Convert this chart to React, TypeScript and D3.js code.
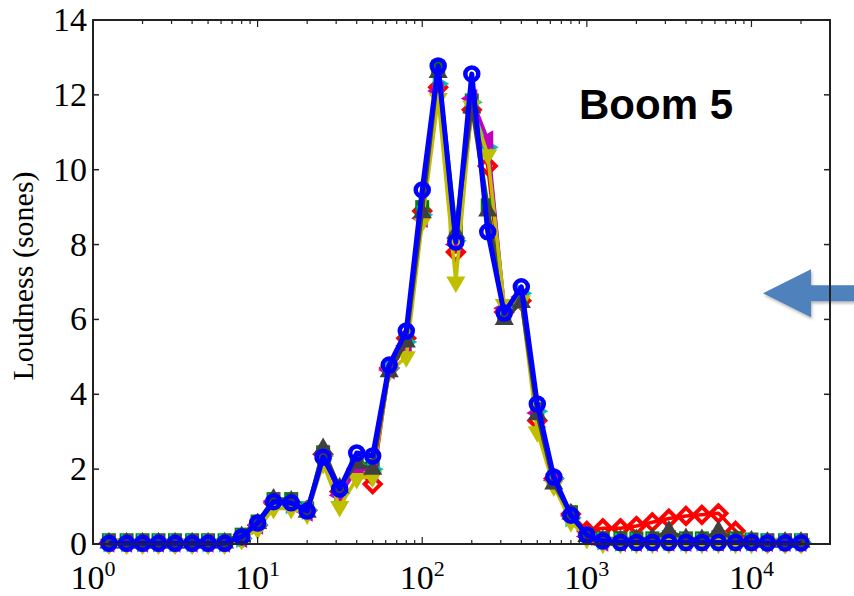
import React from "react";
import * as d3 from "d3";

// third-octave band centre frequencies (Hz)
const freqs = [1.25, 1.6, 2, 2.5, 3.15, 4, 5, 6.3, 8, 10, 12.5, 16, 20, 25, 31.5, 40, 50, 63, 80, 100, 125, 160, 200, 250, 315, 400, 500, 630, 800, 1000, 1250, 1600, 2000, 2500, 3150, 4000, 5000, 6300, 8000, 10000, 12500, 16000, 20000];

const redD = [0.02, 0.02, 0.02, 0.02, 0.02, 0.02, 0.02, 0.02, 0.15, 0.5, 1.1, 1.1, 0.9, 2.4, 1.4, 2.0, 1.6, 4.7, 5.5, 8.9, 12.2, 7.8, 11.6, 10.1, 6.2, 6.5, 3.3, 1.75, 0.8, 0.35, 0.42, 0.42, 0.48, 0.58, 0.68, 0.75, 0.78, 0.82, 0.35, 0.05, 0.03, 0.03, 0.03];
const greenS = [0.1, 0.1, 0.1, 0.1, 0.1, 0.1, 0.1, 0.1, 0.25, 0.6, 1.2, 1.2, 0.95, 2.45, 1.5, 2.2, 2.1, 4.7, 5.5, 9.0, 12.75, 8.45, 11.85, 9.05, 6.1, 6.6, 3.6, 1.7, 0.85, 0.25, 0.15, 0.15, 0.15, 0.15, 0.18, 0.15, 0.15, 0.18, 0.15, 0.12, 0.1, 0.1, 0.1];
const cyanR = [0.03, 0.03, 0.03, 0.03, 0.03, 0.03, 0.03, 0.03, 0.15, 0.5, 1.1, 1.05, 0.9, 2.35, 1.35, 2.1, 2.0, 4.7, 5.4, 8.8, 12.3, 8.1, 11.8, 10.6, 6.3, 6.7, 3.55, 1.75, 0.7, 0.22, 0.08, 0.05, 0.05, 0.05, 0.06, 0.05, 0.05, 0.06, 0.05, 0.05, 0.05, 0.05, 0.05];
const magentaL = [0.02, 0.02, 0.02, 0.02, 0.02, 0.02, 0.02, 0.02, 0.15, 0.5, 1.15, 1.1, 0.85, 2.4, 1.3, 2.0, 1.9, 4.65, 5.3, 8.7, 12.1, 8.0, 11.9, 10.8, 6.3, 6.6, 3.5, 1.7, 0.75, 0.2, 0.05, 0.04, 0.04, 0.04, 0.05, 0.04, 0.04, 0.05, 0.04, 0.04, 0.04, 0.04, 0.04];
const yellowV = [0.0, 0.0, 0.0, 0.0, 0.0, 0.0, 0.0, 0.0, 0.12, 0.4, 0.95, 0.95, 0.8, 2.15, 1.0, 1.75, 1.8, 4.6, 5.0, 8.6, 11.9, 7.0, 11.7, 10.4, 6.4, 6.5, 3.0, 1.55, 0.6, 0.15, 0.02, 0.02, 0.02, 0.02, 0.02, 0.02, 0.02, 0.02, 0.02, 0.02, 0.02, 0.02, 0.02];
const grayUp = [0.03, 0.03, 0.03, 0.03, 0.03, 0.03, 0.03, 0.03, 0.2, 0.55, 1.2, 1.15, 0.85, 2.55, 1.5, 2.15, 2.0, 4.6, 5.4, 8.85, 12.6, 8.3, 11.65, 8.9, 6.0, 6.45, 3.45, 1.6, 0.8, 0.2, 0.1, 0.1, 0.12, 0.15, 0.35, 0.15, 0.12, 0.35, 0.12, 0.08, 0.05, 0.05, 0.05];
const blueO = [0.02, 0.02, 0.02, 0.02, 0.02, 0.02, 0.02, 0.02, 0.19, 0.56, 1.13, 1.1, 0.88, 2.32, 1.47, 2.43, 2.35, 4.78, 5.69, 9.46, 12.77, 8.07, 12.56, 8.34, 6.17, 6.87, 3.74, 1.79, 0.77, 0.24, 0.08, 0.04, 0.04, 0.04, 0.04, 0.04, 0.04, 0.04, 0.04, 0.04, 0.03, 0.03, 0.03];

const yTicks = [0, 2, 4, 6, 8, 10, 12, 14];
const xMajor = [1, 10, 100, 1000, 10000];
const xExponents = ["0", "1", "2", "3", "4"];
const yLabel = "Loudness (sones)";
const title = "Boom 5";

type Marker = "d" | "s" | ">" | "<" | "v" | "^" | "o";
const seriesList: { values: number[]; color: string; marker: Marker; lw: number }[] = [
  { values: redD, color: "#FF0000", marker: "d", lw: 3.5 },
  { values: greenS, color: "#008000", marker: "s", lw: 3.5 },
  { values: cyanR, color: "#00BFBF", marker: ">", lw: 3.5 },
  { values: magentaL, color: "#BF00BF", marker: "<", lw: 3.5 },
  { values: yellowV, color: "#BFBF00", marker: "v", lw: 3.5 },
  { values: grayUp, color: "#404040", marker: "^", lw: 3.5 },
  { values: blueO, color: "#0000FF", marker: "o", lw: 5 },
];

const W = 854, H = 596;
const L = 93, R = 830, T = 20, B = 544;
const serif = "'Liberation Serif', 'Times New Roman', serif";

function markerEl(m: Marker, x: number, y: number, color: string, key: number) {
  const s = 11;
  const h = s * 0.87;
  switch (m) {
    case "d":
      return <path key={key} d={`M${x},${y - 8}L${x + 8},${y}L${x},${y + 8}L${x - 8},${y}Z`} fill="none" stroke={color} strokeWidth={4} />;
    case "s":
      return <rect key={key} x={x - 7} y={y - 7} width={14} height={14} fill={color} />;
    case ">":
      return <path key={key} d={`M${x + s},${y}L${x - s / 2},${y - h}L${x - s / 2},${y + h}Z`} fill={color} />;
    case "<":
      return <path key={key} d={`M${x - s},${y}L${x + s / 2},${y - h}L${x + s / 2},${y + h}Z`} fill={color} />;
    case "v":
      return <path key={key} d={`M${x},${y + s}L${x - h},${y - s / 2}L${x + h},${y - s / 2}Z`} fill={color} />;
    case "^":
      return <path key={key} d={`M${x},${y - s}L${x - h},${y + s / 2}L${x + h},${y + s / 2}Z`} fill={color} />;
    case "o":
      return <circle key={key} cx={x} cy={y} r={6.5} fill="none" stroke={color} strokeWidth={4.5} />;
  }
}

export default function App() {
  const x = d3.scaleLog().domain([1, 30000]).range([L, R]);
  const y = d3.scaleLinear().domain([0, 14]).range([B, T]);

  const minor: number[] = [];
  for (let e = 0; e <= 4; e++) {
    for (let k = 2; k <= 9; k++) {
      const v = k * Math.pow(10, e);
      if (v <= 30000) minor.push(v);
    }
  }

  const line = d3
    .line<number>()
    .x((_, i) => x(freqs[i]))
    .y((d) => y(d));

  const arrowY = y(6.7);

  return (
    <svg width={W} height={H} style={{ position: "absolute", left: 0, top: 0, background: "#fff" }}>
      <defs>
        <filter id="sh" x="-20%" y="-20%" width="140%" height="160%">
          <feDropShadow dx="1" dy="2" stdDeviation="1.5" floodColor="#000" floodOpacity="0.3" />
        </filter>
      </defs>
      <rect x={0} y={0} width={W} height={H} fill="#fff" />

      {/* series */}
      {seriesList.map((s, si) => (
        <g key={si}>
          <path d={line(s.values) || ""} fill="none" stroke={s.color} strokeWidth={s.lw} strokeLinejoin="round" />
          {s.values.map((v, i) => markerEl(s.marker, x(freqs[i]), y(v), s.color, i))}
        </g>
      ))}

      {/* annotation arrow */}
      <path
        d={`M763,${arrowY}L811,${arrowY - 24}L811,${arrowY - 8}L860,${arrowY - 8}L860,${arrowY + 8}L811,${arrowY + 8}L811,${arrowY + 24}Z`}
        fill="#4F81BD"
        filter="url(#sh)"
      />

      {/* axes box */}
      <rect x={L} y={T} width={R - L} height={B - T} fill="none" stroke="#222" strokeWidth={2} />

      {/* y ticks */}
      {yTicks.map((t) => (
        <g key={"y" + t}>
          <line x1={L} x2={L + 6} y1={y(t)} y2={y(t)} stroke="#222" strokeWidth={1.5} />
          <line x1={R} x2={R - 6} y1={y(t)} y2={y(t)} stroke="#222" strokeWidth={1.5} />
          <text x={87} y={y(t) + 11} textAnchor="end" fontFamily={serif} fontSize={34} fill="#000">
            {t}
          </text>
        </g>
      ))}

      {/* x ticks */}
      {xMajor.map((t) => (
        <g key={"xm" + t}>
          <line x1={x(t)} x2={x(t)} y1={B} y2={B - 7} stroke="#222" strokeWidth={1.2} />
          <line x1={x(t)} x2={x(t)} y1={T} y2={T + 7} stroke="#222" strokeWidth={1.2} />
        </g>
      ))}
      {minor.map((t) => (
        <g key={"xn" + t}>
          <line x1={x(t)} x2={x(t)} y1={B} y2={B - 4} stroke="#222" strokeWidth={1.2} />
          <line x1={x(t)} x2={x(t)} y1={T} y2={T + 4} stroke="#222" strokeWidth={1.2} />
        </g>
      ))}
      {xMajor.map((t, i) => (
        <text key={"xl" + t} x={x(t)} y={589} textAnchor="middle" fontFamily={serif} fontSize={34} fill="#000">
          <tspan>10</tspan>
          <tspan dy={-13} fontSize={22}>
            {xExponents[i]}
          </tspan>
        </text>
      ))}

      {/* y label */}
      <text
        transform={`translate(33,${(T + B) / 2 - 6}) rotate(-90)`}
        textAnchor="middle"
        fontFamily={serif}
        fontSize={30}
        fill="#000"
      >
        {yLabel}
      </text>

      {/* title */}
      <text x={579} y={119} fontFamily="'Liberation Sans', Arial, sans-serif" fontWeight="bold" fontSize={42} fill="#000">
        {title}
      </text>
    </svg>
  );
}
